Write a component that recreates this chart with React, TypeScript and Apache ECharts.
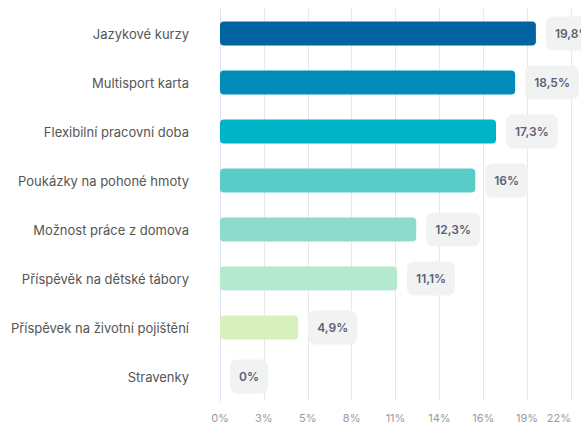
import React, { useEffect, useRef } from "react";
import * as echarts from "echarts";

const categories = [
  "Jazykové kurzy",
  "Multisport karta",
  "Flexibilní pracovní doba",
  "Poukázky na pohoné hmoty",
  "Možnost práce z domova",
  "Příspěvěk na dětské tábory",
  "Příspěvek na životní pojištění",
  "Stravenky",
];
const values = [19.8, 18.5, 17.3, 16, 12.3, 11.1, 4.9, 0];
const barColors = [
  "#0064a0",
  "#008bb8",
  "#00b4c8",
  "#5accc8",
  "#8fdbcb",
  "#b4e8cf",
  "#d8efbe",
  "#d8efbe",
];
const tickLabels = ["0%", "3%", "5%", "8%", "11%", "14%", "16%", "19%", "22%"];
const axisMax = 22;

export default function App() {
  const ref = useRef<HTMLDivElement>(null);
  useEffect(() => {
    const chart = echarts.init(ref.current!, null, { renderer: "svg" });
    const step = axisMax / (tickLabels.length - 1);
    chart.setOption({
      animation: false,
      textStyle: { fontFamily: "Inter, 'Noto Sans', sans-serif" },
      grid: { left: 220, right: 10, top: 9, bottom: 24, containLabel: false },
      xAxis: {
        type: "value",
        min: 0,
        max: axisMax,
        interval: step,
        axisLine: { show: false },
        axisTick: { show: false },
        splitLine: { show: true, lineStyle: { color: "#e8e8ec", width: 1 } },
        axisLabel: {
          color: "#9a9aa2",
          fontSize: 11,
          margin: 11,
          alignMaxLabel: "right",
          formatter: (v: number) => tickLabels[Math.round(v / step)] ?? "",
        },
      },
      yAxis: {
        type: "category",
        data: categories,
        inverse: true,
        axisLine: { show: true, lineStyle: { color: "#dde3f3", width: 1 } },
        axisTick: { show: false },
        axisLabel: { color: "#555555", fontSize: 13, margin: 31 },
      },
      series: [
        {
          type: "bar",
          barWidth: 24,
          data: values.map((v, i) => ({
            value: v,
            itemStyle: { color: barColors[i], borderRadius: 4 },
          })),
          label: {
            show: true,
            position: "right",
            distance: 10,
            formatter: (p: any) => String(p.value).replace(".", ",") + "%",
            color: "#5c6072",
            fontSize: 12,
            fontWeight: 600,
            backgroundColor: "#f1f2f2",
            borderRadius: 7,
            padding: [11, 9, 11, 9],
          },
        },
      ],
    });
    return () => chart.dispose();
  }, []);
  return <div ref={ref} style={{ width: 581, height: 425, position: "absolute", left: 0, top: 0 }} />;
}
